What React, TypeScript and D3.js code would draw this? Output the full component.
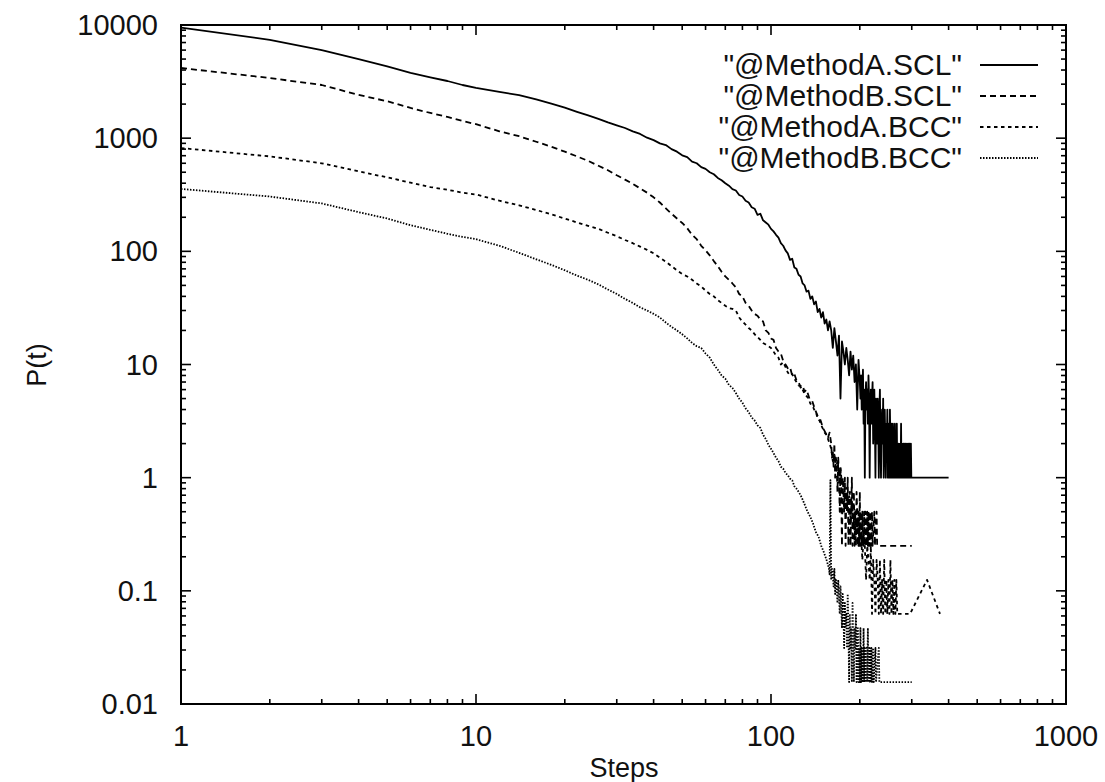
import React from "react";
import * as d3 from "d3";

type Pt = [number, number];

const seriesNames = ['"@MethodA.SCL"', '"@MethodB.SCL"', '"@MethodA.BCC"', '"@MethodB.BCC"'];

const methodA_SCL: Pt[] = [
  [1, 9500], [2, 7400], [3, 6000], [4, 5000], [5, 4300], [6, 3770], [7, 3440], [8, 3200], [9, 2950], [10, 2780],
  [12, 2560], [14, 2400], [16, 2200], [18, 2020], [20, 1860], [22, 1710], [24, 1590], [26, 1480], [28, 1380], [30, 1300],
  [32, 1230], [34, 1150], [36, 1090], [38, 1010], [40, 960], [42, 900], [44, 870], [46, 800], [48, 760], [50, 705],
  [52, 680], [54, 620], [56, 600], [58, 555], [60, 535], [62, 500], [64, 480], [66, 445], [68, 425], [70, 400],
  [72, 380], [74, 355], [76, 345], [78, 315], [80, 305], [82, 280], [84, 270], [86, 245], [88, 238], [90, 210],
  [92, 215], [94, 188], [96, 180], [98, 172], [100, 158], [102, 150], [104, 140], [106, 132], [108, 118], [110, 112],
  [112, 102], [114, 96], [116, 84], [118, 86], [120, 72], [122, 70], [124, 62], [126, 60], [128, 52], [130, 50],
  [132, 44], [134, 45], [136, 38], [138, 40], [140, 34], [142, 36], [144, 29], [146, 31], [148, 26], [150, 29],
  [152, 23], [154, 25], [156, 20], [158, 24], [160, 20], [162, 14], [164, 21], [166, 16], [168, 12], [170, 18],
  [172, 5], [174, 16], [176, 13], [178, 10], [180, 14], [182, 11], [184, 8], [186, 13], [188, 9], [190, 12],
  [192, 7], [194, 10], [196, 4], [198, 11],
  [200, 7], [201, 5], [202, 8], [203, 4], [204, 6], [205, 9], [206, 3], [207, 6], [208, 1], [209, 5],
  [210, 7], [211, 4], [212, 6], [213, 3], [214, 8], [215, 5], [216, 1], [217, 4], [218, 6], [219, 3],
  [220, 5], [221, 7], [222, 2], [223, 4], [224, 6], [225, 3], [226, 1], [227, 5], [228, 4], [229, 2],
  [230, 5], [231, 3], [232, 1], [233, 4], [234, 6], [235, 2], [236, 1], [237, 3], [238, 4], [239, 2],
  [240, 5], [241, 1], [242, 3], [243, 4], [244, 2], [245, 1], [246, 3], [247, 2], [248, 4], [249, 1],
  [250, 2], [251, 3], [252, 1], [253, 4], [254, 2], [255, 1], [256, 3], [257, 2], [258, 1], [259, 3],
  [260, 2], [261, 1], [262, 2], [263, 3], [264, 1], [265, 2], [266, 1], [267, 3], [268, 1], [269, 2],
  [270, 1], [271, 2], [272, 1], [273, 1], [274, 2], [275, 1], [276, 3], [277, 1], [278, 2], [279, 1],
  [280, 1], [281, 2], [282, 1], [283, 2], [284, 1], [285, 1], [286, 2], [287, 1], [288, 1], [289, 2],
  [290, 1], [291, 1], [292, 2], [293, 1], [294, 1], [295, 2], [296, 1], [297, 1], [298, 2], [299, 1],
  [300, 1], [400, 1],
];

const methodB_SCL: Pt[] = [
  [1, 4170], [2, 3400], [3, 2950], [4, 2410], [5, 2120], [6, 1850], [7, 1670], [8, 1540], [9, 1420], [10, 1330],
  [12, 1150], [14, 1040], [16, 930], [18, 840], [20, 760], [22, 690], [24, 630], [26, 570], [28, 520], [30, 470],
  [32, 430], [34, 395], [36, 360], [38, 330], [40, 300], [42, 270], [44, 240], [46, 215], [48, 195], [50, 178],
  [52, 160], [54, 140], [56, 128], [58, 112], [60, 102], [62, 92], [64, 82], [66, 74], [68, 66], [70, 60],
  [72, 56], [74, 52], [76, 48], [78, 42], [80, 40], [82, 35], [84, 33], [86, 30], [88, 28], [90, 27],
  [92, 25], [94, 24], [96, 20], [98, 19], [100, 17], [102, 16.5], [104, 14], [106, 13], [108, 12.5], [110, 10.75],
  [112, 10], [114, 9.25], [116, 9.5], [118, 8], [120, 8.25], [122, 7.25], [124, 7], [126, 6.25], [128, 6.5], [130, 5.75],
  [132, 6], [135, 5], [138, 4.75], [141, 4], [144, 3.5], [147, 3.25], [150, 2.75], [153, 2.5], [156, 2.25], [158, 2.5],
  [160, 2], [161, 1.5], [162, 1.75], [163, 1.25], [164, 2], [165, 1], [166, 1.5], [167, 1.25], [168, 0.75], [169, 1.5],
  [170, 1], [171, 0.5], [172, 1.25], [173, 0.75], [174, 0.25], [175, 1], [176, 0.75], [177, 0.5], [178, 1], [179, 0.25],
  [180, 0.75], [181, 0.5], [182, 1], [183, 0.25], [184, 0.5], [185, 0.75], [186, 0.25], [187, 0.5], [188, 1], [189, 0.25],
  [190, 0.5], [191, 0.75], [192, 0.25], [193, 0.5], [194, 0.25], [195, 0.75], [196, 0.5], [197, 0.25], [198, 0.5], [199, 0.25],
  [200, 0.75], [201, 0.25], [202, 0.5], [203, 0.25], [204, 0.5], [205, 0.25], [206, 0.25], [207, 0.5], [208, 0.25], [209, 0.5],
  [210, 0.25], [211, 0.25], [212, 0.5], [213, 0.25], [214, 0.5], [215, 0.25], [216, 0.25], [217, 0.5], [218, 0.25], [220, 0.5],
  [221, 0.25], [224, 0.5], [225, 0.25], [228, 0.5], [229, 0.25], [300, 0.25],
];

const methodA_BCC: Pt[] = [
  [1, 818], [2, 690], [3, 600], [4, 510], [5, 450], [6, 405], [7, 370], [8, 350], [9, 330], [10, 318],
  [12, 280], [14, 255], [16, 232], [18, 212], [20, 195], [22, 180], [24, 168], [26, 158], [28, 146], [30, 136],
  [32, 126], [34, 118], [36, 110], [38, 103], [40, 96], [42, 88], [44, 81], [46, 74], [48, 68], [50, 63],
  [52, 60], [54, 56], [56, 52], [58, 49], [60, 45], [62, 42], [64, 40], [66, 37], [68, 35], [70, 33],
  [72, 31.5], [74, 31], [76, 30], [78, 26], [80, 24], [82, 22.5], [84, 21], [86, 20], [88, 18.5], [90, 17.5],
  [92, 16.5], [94, 15.5], [96, 15], [98, 14.5], [100, 14], [102, 13], [104, 12], [106, 11.5], [108, 10], [110, 10.5],
  [112, 9.5], [114, 8.5], [116, 8], [118, 8.25], [120, 7.5], [122, 7], [124, 6.5], [126, 6.5], [128, 6], [130, 5.5],
  [132, 5.25], [134, 5], [136, 4.5], [138, 4.4], [140, 4], [142, 3.8], [144, 3.3], [146, 3.2], [148, 2.9], [150, 2.7],
  [152, 2.5], [154, 2.4], [156, 2.2], [158, 2], [160, 1.8], [162, 1.4], [164, 1.6], [166, 1.2], [168, 1.4], [170, 1.0],
  [172, 1.2], [174, 0.875], [176, 0.9375], [178, 0.6875], [180, 0.8125], [182, 0.5625], [184, 0.6875], [186, 0.4375], [188, 0.625], [190, 0.375],
  [192, 0.5], [194, 0.3125], [196, 0.4375], [198, 0.25], [200, 0.375], [202, 0.3125], [204, 0.1875], [206, 0.3125], [208, 0.25], [210, 0.125],
  [212, 0.25], [214, 0.1875], [216, 0.125], [218, 0.25], [220, 0.0625], [222, 0.1875], [224, 0.125], [226, 0.0625], [228, 0.1875], [230, 0.125],
  [232, 0.0625], [234, 0.1875], [236, 0.0625], [238, 0.125], [240, 0.0625], [242, 0.1875], [244, 0.0625], [246, 0.125], [248, 0.0625], [250, 0.125],
  [252, 0.0625], [254, 0.1875], [256, 0.0625], [258, 0.125], [260, 0.0625], [262, 0.125], [264, 0.0625], [266, 0.125], [268, 0.0625], [296, 0.0625],
  [338, 0.125], [374, 0.0625],
];

const methodB_BCC: Pt[] = [
  [1, 356], [2, 305], [3, 265], [4, 222], [5, 195], [6, 170], [7, 155], [8, 143], [9, 134], [10, 128],
  [12, 112], [14, 97], [16, 85], [18, 76], [20, 68], [22, 61], [24, 56], [26, 51], [28, 46], [30, 42],
  [32, 38], [34, 35], [36, 32], [38, 30], [40, 28], [42, 26], [44, 23.5], [46, 21.5], [48, 20], [50, 18.5],
  [52, 17], [54, 15.5], [56, 14.5], [58, 14], [60, 12.5], [62, 11.5], [64, 10], [66, 9], [68, 8], [70, 7.5],
  [72, 6.6], [74, 6.2], [76, 5.6], [78, 5], [80, 4.6], [82, 4.1], [84, 3.8], [86, 3.4], [88, 3.2], [90, 2.9],
  [92, 2.75], [94, 2.4], [96, 2.2], [98, 1.95], [100, 1.8], [102, 1.65], [104, 1.5], [106, 1.4], [108, 1.25], [110, 1.2],
  [112, 1.1], [114, 1.05], [116, 0.98], [118, 0.95], [120, 0.84], [122, 0.8], [124, 0.75], [126, 0.7], [128, 0.64], [130, 0.58],
  [133, 0.5], [136, 0.45], [139, 0.39], [142, 0.33], [145, 0.3], [148, 0.25], [151, 0.22], [154, 0.19], [157, 0.16], [158, 0.14],
  [159, 0.95], [160, 0.125], [161, 0.15625], [162, 0.140625], [163, 0.109375], [164, 0.15625], [165, 0.09375], [166, 0.125], [167, 0.109375], [168, 0.078125],
  [169, 0.125], [170, 0.09375], [171, 0.0625], [172, 0.109375], [173, 0.078125], [174, 0.046875], [175, 0.09375], [176, 0.0625], [177, 0.03125], [178, 0.078125],
  [179, 0.046875], [180, 0.0625], [181, 0.03125], [182, 0.09375], [183, 0.046875], [184, 0.015625], [185, 0.0625], [186, 0.03125], [187, 0.046875], [188, 0.015625],
  [189, 0.078125], [190, 0.03125], [191, 0.015625], [192, 0.046875], [193, 0.03125], [194, 0.0625], [195, 0.015625], [196, 0.03125], [197, 0.046875], [198, 0.015625],
  [199, 0.03125], [200, 0.015625], [201, 0.046875], [202, 0.015625], [203, 0.03125], [204, 0.015625], [205, 0.015625], [206, 0.046875], [207, 0.015625], [208, 0.03125],
  [209, 0.015625], [210, 0.015625], [211, 0.03125], [212, 0.015625], [213, 0.046875], [214, 0.015625], [215, 0.015625], [216, 0.03125], [217, 0.015625], [218, 0.015625],
  [219, 0.03125], [220, 0.015625], [222, 0.03125], [223, 0.015625], [226, 0.03125], [227, 0.015625], [232, 0.03125], [233, 0.015625], [300, 0.015625],
];

const allSeries: Pt[][] = [methodA_SCL, methodB_SCL, methodA_BCC, methodB_BCC];
const dashes = ["none", "6,4", "3.5,3.5", "1.5,1.5"];

const xTickValues = [1, 10, 100, 1000];
const xTickLabels = ["1", "10", "100", "1000"];
const yTickValues = [0.01, 0.1, 1, 10, 100, 1000, 10000];
const yTickLabels = ["0.01", "0.1", "1", "10", "100", "1000", "10000"];

const FONT = "'Liberation Sans', Arial, Helvetica, sans-serif";

export default function App() {
  const W = 1105, H = 782;
  const left = 181, right = 1066, top = 25, bottom = 704;
  const x = d3.scaleLog().domain([1, 1000]).range([left, right]);
  const y = d3.scaleLog().domain([0.01, 10000]).range([bottom, top]);
  const line = d3.line<Pt>().x((d) => x(d[0])).y((d) => y(d[1]));

  const xMinor: number[] = [];
  for (let e = 0; e < 3; e++) for (let m = 2; m <= 9; m++) xMinor.push(m * Math.pow(10, e));
  const yMinor: number[] = [];
  for (let e = -2; e < 4; e++) for (let m = 2; m <= 9; m++) yMinor.push(+(m * Math.pow(10, e)).toPrecision(6));

  const major = 10, minor = 5;
  const tickStroke = { stroke: "#000", strokeWidth: 1.6 };

  return (
    <svg width={W} height={H} style={{ position: "absolute", left: 0, top: 0, background: "#fff" }}>
      <rect x={0} y={0} width={W} height={H} fill="#fff" />
      <defs>
        <clipPath id="plotclip">
          <rect x={left} y={top} width={right - left} height={bottom - top} />
        </clipPath>
      </defs>
      {xTickValues.map((v) => (
        <g key={"xM" + v}>
          <line x1={x(v)} x2={x(v)} y1={bottom} y2={bottom - major} {...tickStroke} />
          <line x1={x(v)} x2={x(v)} y1={top} y2={top + major} {...tickStroke} />
        </g>
      ))}
      {xMinor.map((v) => (
        <g key={"xm" + v}>
          <line x1={x(v)} x2={x(v)} y1={bottom} y2={bottom - minor} {...tickStroke} />
          <line x1={x(v)} x2={x(v)} y1={top} y2={top + minor} {...tickStroke} />
        </g>
      ))}
      {yTickValues.map((v) => (
        <g key={"yM" + v}>
          <line x1={left} x2={left + major} y1={y(v)} y2={y(v)} {...tickStroke} />
          <line x1={right} x2={right - major} y1={y(v)} y2={y(v)} {...tickStroke} />
        </g>
      ))}
      {yMinor.map((v) => (
        <g key={"ym" + v}>
          <line x1={left} x2={left + minor} y1={y(v)} y2={y(v)} {...tickStroke} />
          <line x1={right} x2={right - minor} y1={y(v)} y2={y(v)} {...tickStroke} />
        </g>
      ))}
      <g clipPath="url(#plotclip)">
        {allSeries.map((s, i) => (
          <path
            key={i}
            d={line(s) || ""}
            fill="none"
            stroke="#000"
            strokeWidth={1.8}
            strokeDasharray={dashes[i]}
            strokeLinejoin="round"
          />
        ))}
      </g>
      <rect x={left} y={top} width={right - left} height={bottom - top} fill="none" stroke="#000" strokeWidth={2} />
      {yTickValues.map((v, i) => (
        <text key={"yl" + v} x={158} y={y(v) + 10} textAnchor="end" fontFamily={FONT} fontSize={29} fill="#111">
          {yTickLabels[i]}
        </text>
      ))}
      {xTickValues.map((v, i) => (
        <text key={"xl" + v} x={x(v)} y={746} textAnchor="middle" fontFamily={FONT} fontSize={29} fill="#111">
          {xTickLabels[i]}
        </text>
      ))}
      <text x={624} y={777} textAnchor="middle" fontFamily={FONT} fontSize={27} fill="#111">Steps</text>
      <text transform={`translate(46,365) rotate(-90)`} textAnchor="middle" fontFamily={FONT} fontSize={27} fill="#111">P(t)</text>
      {seriesNames.map((name, i) => {
        const ly = 65 + i * 31;
        return (
          <g key={"lg" + i}>
            <text x={962} y={ly + 10} textAnchor="end" fontFamily={FONT} fontSize={30} fill="#111">{name}</text>
            <line x1={980} x2={1038} y1={ly} y2={ly} stroke="#000" strokeWidth={1.8} strokeDasharray={dashes[i]} />
          </g>
        );
      })}
    </svg>
  );
}
